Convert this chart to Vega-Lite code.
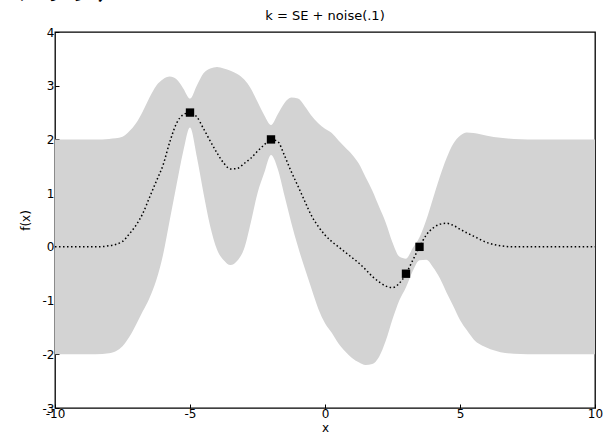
{
  "$schema": "https://vega.github.io/schema/vega-lite/v6.json",
  "width": 540,
  "height": 376,
  "autosize": {"type": "none"},
  "padding": {"left": 55, "top": 32, "right": 19, "bottom": 32},
  "background": "white",
  "config": {
    "font": "DejaVu Sans",
    "view": {"stroke": "black", "strokeWidth": 1.3},
    "axis": {
      "grid": false,
      "domain": false,
      "tickColor": "black",
      "tickSize": -4,
      "labelColor": "black",
      "labelFontSize": 12,
      "labelFont": "DejaVu Sans",
      "titleFont": "DejaVu Sans",
      "titleFontSize": 12,
      "titleFontWeight": "normal",
      "titleColor": "black",
      "labelOverlap": false,
      "labelBound": false,
      "labelFlush": false,
      "labelExpr": "'' + datum.value"
    }
  },
  "title": {
    "text": "k = SE + noise(.1)",
    "fontSize": 13,
    "fontWeight": "normal",
    "font": "DejaVu Sans",
    "color": "black",
    "offset": -50
  },
  "datasets": {
    "gp": [
      {"x": -10, "mean": 0, "lo": -2, "hi": 2},
      {"x": -9, "mean": 0, "lo": -2, "hi": 2},
      {"x": -8.5, "mean": 0, "lo": -2, "hi": 2},
      {"x": -8, "mean": 0.02, "lo": -1.98, "hi": 2.01},
      {"x": -7.5, "mean": 0.1, "lo": -1.85, "hi": 2.05},
      {"x": -7.25, "mean": 0.24, "lo": -1.68, "hi": 2.15},
      {"x": -7, "mean": 0.4, "lo": -1.45, "hi": 2.3},
      {"x": -6.75, "mean": 0.62, "lo": -1.2, "hi": 2.52},
      {"x": -6.5, "mean": 0.92, "lo": -0.95, "hi": 2.78},
      {"x": -6.25, "mean": 1.22, "lo": -0.62, "hi": 3.0},
      {"x": -6, "mean": 1.52, "lo": -0.15, "hi": 3.12},
      {"x": -5.75, "mean": 1.95, "lo": 0.5, "hi": 3.17},
      {"x": -5.5, "mean": 2.3, "lo": 1.15, "hi": 3.12},
      {"x": -5.25, "mean": 2.46, "lo": 1.78, "hi": 2.95},
      {"x": -5, "mean": 2.5, "lo": 2.22, "hi": 2.76},
      {"x": -4.75, "mean": 2.42, "lo": 1.68, "hi": 3.0},
      {"x": -4.5, "mean": 2.2, "lo": 1.0, "hi": 3.23},
      {"x": -4.25, "mean": 1.97, "lo": 0.38, "hi": 3.32},
      {"x": -4, "mean": 1.75, "lo": -0.05, "hi": 3.35},
      {"x": -3.75, "mean": 1.56, "lo": -0.25, "hi": 3.32},
      {"x": -3.5, "mean": 1.45, "lo": -0.34, "hi": 3.28},
      {"x": -3.25, "mean": 1.46, "lo": -0.26, "hi": 3.22},
      {"x": -3, "mean": 1.55, "lo": -0.04, "hi": 3.12},
      {"x": -2.75, "mean": 1.65, "lo": 0.45, "hi": 2.95},
      {"x": -2.5, "mean": 1.78, "lo": 1.0, "hi": 2.7},
      {"x": -2.25, "mean": 1.9, "lo": 1.38, "hi": 2.45},
      {"x": -2, "mean": 2.0, "lo": 1.71, "hi": 2.27},
      {"x": -1.75, "mean": 1.96, "lo": 1.45, "hi": 2.47},
      {"x": -1.5, "mean": 1.7, "lo": 0.95, "hi": 2.68},
      {"x": -1.25, "mean": 1.4, "lo": 0.45, "hi": 2.78},
      {"x": -1, "mean": 1.13, "lo": 0.0, "hi": 2.76},
      {"x": -0.75, "mean": 0.85, "lo": -0.4, "hi": 2.62},
      {"x": -0.5, "mean": 0.58, "lo": -0.78, "hi": 2.44},
      {"x": -0.25, "mean": 0.38, "lo": -1.15, "hi": 2.3},
      {"x": 0, "mean": 0.22, "lo": -1.42, "hi": 2.2},
      {"x": 0.25, "mean": 0.1, "lo": -1.6, "hi": 2.12},
      {"x": 0.5, "mean": 0.0, "lo": -1.8, "hi": 1.98},
      {"x": 0.75, "mean": -0.1, "lo": -1.95, "hi": 1.85},
      {"x": 1, "mean": -0.2, "lo": -2.07, "hi": 1.72},
      {"x": 1.25, "mean": -0.3, "lo": -2.15, "hi": 1.55},
      {"x": 1.5, "mean": -0.42, "lo": -2.2, "hi": 1.3},
      {"x": 1.75, "mean": -0.55, "lo": -2.18, "hi": 1.05},
      {"x": 2, "mean": -0.65, "lo": -2.05, "hi": 0.75},
      {"x": 2.25, "mean": -0.73, "lo": -1.75, "hi": 0.45},
      {"x": 2.5, "mean": -0.76, "lo": -1.35, "hi": 0.08},
      {"x": 2.75, "mean": -0.68, "lo": -1.0, "hi": -0.18},
      {"x": 3, "mean": -0.5, "lo": -0.75, "hi": -0.22},
      {"x": 3.25, "mean": -0.25, "lo": -0.45, "hi": -0.02},
      {"x": 3.5, "mean": 0.0, "lo": -0.25, "hi": 0.18},
      {"x": 3.75, "mean": 0.22, "lo": -0.24, "hi": 0.5},
      {"x": 4, "mean": 0.35, "lo": -0.38, "hi": 0.9},
      {"x": 4.25, "mean": 0.42, "lo": -0.58, "hi": 1.3},
      {"x": 4.5, "mean": 0.44, "lo": -0.85, "hi": 1.65},
      {"x": 4.75, "mean": 0.4, "lo": -1.1, "hi": 1.92},
      {"x": 5, "mean": 0.33, "lo": -1.36, "hi": 2.07},
      {"x": 5.25, "mean": 0.26, "lo": -1.55, "hi": 2.13},
      {"x": 5.5, "mean": 0.2, "lo": -1.72, "hi": 2.12},
      {"x": 6, "mean": 0.08, "lo": -1.88, "hi": 2.07},
      {"x": 6.5, "mean": 0.02, "lo": -1.96, "hi": 2.03},
      {"x": 7, "mean": 0.0, "lo": -1.99, "hi": 2.01},
      {"x": 8, "mean": 0, "lo": -2, "hi": 2},
      {"x": 9, "mean": 0, "lo": -2, "hi": 2},
      {"x": 10, "mean": 0, "lo": -2, "hi": 2}
    ],
    "obs": [
      {"x": -5, "y": 2.5},
      {"x": -2, "y": 2.0},
      {"x": 3, "y": -0.5},
      {"x": 3.5, "y": 0.0}
    ],
    "note": [
      {"label": "くあう）"}
    ]
  },
  "layer": [
    {
      "data": {"name": "gp"},
      "mark": {"type": "area", "color": "#d3d3d3", "interpolate": "monotone", "opacity": 1},
      "encoding": {
        "x": {
          "field": "x", "type": "quantitative",
          "scale": {"domain": [-10, 10], "nice": false, "zero": false},
          "axis": {"values": [-10, -5, 0, 5, 10], "title": "x", "titlePadding": 3, "labelPadding": 4}
        },
        "y": {
          "field": "lo", "type": "quantitative",
          "scale": {"domain": [-3, 4], "nice": false, "zero": false},
          "axis": {"values": [-3, -2, -1, 0, 1, 2, 3, 4], "title": "f(x)", "titlePadding": 10, "labelPadding": 5}
        },
        "y2": {"field": "hi"}
      }
    },
    {
      "data": {"name": "gp"},
      "mark": {"type": "line", "color": "black", "strokeWidth": 1.5, "strokeDash": [1.5, 2.5], "interpolate": "monotone"},
      "encoding": {
        "x": {"field": "x", "type": "quantitative"},
        "y": {"field": "mean", "type": "quantitative"}
      }
    },
    {
      "data": {"name": "obs"},
      "mark": {"type": "square", "color": "black", "filled": true, "opacity": 1, "size": 70},
      "encoding": {
        "x": {"field": "x", "type": "quantitative"},
        "y": {"field": "y", "type": "quantitative"}
      }
    },
    {
      "data": {"name": "note"},
      "mark": {"type": "text", "align": "left", "baseline": "bottom", "fontSize": 32, "font": "Noto Sans CJK JP", "color": "black", "clip": false},
      "encoding": {
        "x": {"datum": -12.0},
        "y": {"datum": 4.48},
        "text": {"field": "label"}
      }
    }
  ]
}
